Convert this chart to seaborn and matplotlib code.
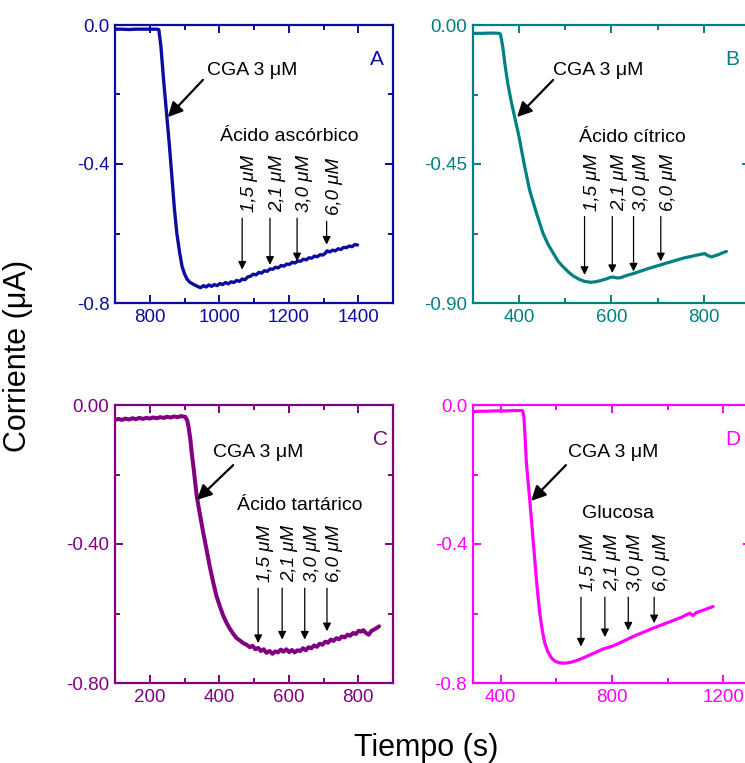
import matplotlib
matplotlib.use("Agg")
import matplotlib.pyplot as plt
from matplotlib.ticker import MultipleLocator, FormatStrFormatter
import pandas as pd
import seaborn as sns

sns.set_theme(style="white")
plt.rcParams["font.family"] = ["Liberation Sans", "DejaVu Sans"]
plt.rcParams["axes.unicode_minus"] = False

# ---------------- data ----------------
# Panel A: ácido ascórbico
time_a = [700, 720, 740, 760, 780, 800, 820, 826, 832, 840, 848, 856, 864, 871, 878,
          886, 893, 900, 907, 915, 927, 937, 946, 955, 962, 970,
          978, 986, 994, 1002, 1010, 1018, 1026, 1034, 1042, 1050, 1058, 1066, 1074,
          1082, 1090, 1098, 1106, 1114, 1122, 1130, 1138, 1146, 1154, 1162, 1170, 1178,
          1186, 1194, 1202, 1210, 1218, 1226, 1234, 1242, 1250, 1258, 1266, 1274, 1282,
          1290, 1298, 1306, 1310, 1318, 1326, 1334, 1342, 1350, 1358, 1366, 1374, 1382,
          1390, 1398]
curr_a = [-0.012, -0.012, -0.013, -0.012, -0.012, -0.012, -0.012, -0.013, -0.060, -0.160,
          -0.250, -0.340, -0.440, -0.530, -0.600, -0.655,
          -0.695, -0.716, -0.731, -0.740, -0.747, -0.752, -0.756, -0.750, -0.754, -0.748,
          -0.752, -0.747, -0.750, -0.744, -0.747, -0.741, -0.745, -0.739, -0.741, -0.735,
          -0.738, -0.731, -0.733, -0.725, -0.723, -0.717, -0.719, -0.712, -0.714, -0.707,
          -0.709, -0.702, -0.703, -0.697, -0.699, -0.692, -0.694, -0.688, -0.689, -0.683,
          -0.685, -0.679, -0.680, -0.674, -0.676, -0.670, -0.671, -0.665, -0.667, -0.661,
          -0.662, -0.656, -0.650, -0.653, -0.648, -0.650, -0.644, -0.646, -0.640, -0.641,
          -0.636, -0.638, -0.632, -0.633]

# Panel B: ácido cítrico
time_b = [300, 320, 340, 358, 360, 365, 370, 376, 383, 391, 400, 412, 423, 438, 452, 463,
          474, 485, 495, 506, 517, 530, 542, 555, 567, 578, 589, 598, 604, 612, 620, 633,
          647, 665, 683, 701, 719, 737, 755, 770, 785, 802, 808, 817, 824, 831, 840, 849]
curr_b = [-0.027, -0.027, -0.026, -0.027, -0.030, -0.070, -0.130, -0.190, -0.245, -0.300,
          -0.360, -0.455, -0.534, -0.609, -0.674, -0.710, -0.738, -0.765, -0.782, -0.798,
          -0.812, -0.823, -0.830, -0.833, -0.831, -0.827, -0.822, -0.817, -0.816, -0.819,
          -0.818, -0.811, -0.805, -0.796, -0.787, -0.779, -0.771, -0.763, -0.755, -0.750,
          -0.745, -0.740, -0.746, -0.751, -0.747, -0.744, -0.738, -0.733]

# Panel C: ácido tartárico
time_c = [100, 110, 120, 130, 140, 150, 160, 170, 180, 190, 200, 210, 220, 230, 240, 250,
          260, 270, 280, 290, 302, 308, 312, 317, 321, 326, 331, 335, 340, 345, 354, 364,
          373, 383, 392, 402, 411, 421, 430, 440, 450, 460, 470, 479, 488, 496, 504, 512,
          520, 528, 536, 545, 553, 561, 569, 577, 585, 593, 601, 609, 617, 625, 633, 641,
          649, 657, 665, 673, 681, 689, 697, 705, 713, 721, 729, 737, 745, 753, 761, 769,
          777, 785, 793, 801, 809, 815, 822, 830, 838, 846, 854, 860]
curr_c = [-0.043, -0.040, -0.043, -0.039, -0.042, -0.038, -0.041, -0.037, -0.040, -0.037,
          -0.039, -0.036, -0.038, -0.035, -0.037, -0.034, -0.036, -0.033, -0.035, -0.032,
          -0.034, -0.045, -0.065, -0.100, -0.140, -0.180, -0.225, -0.260, -0.290, -0.318,
          -0.368, -0.419, -0.466, -0.512, -0.550, -0.580, -0.605, -0.627, -0.643, -0.658,
          -0.671, -0.678, -0.686, -0.690, -0.697, -0.693, -0.703, -0.699, -0.708, -0.703,
          -0.713, -0.708, -0.716, -0.709, -0.712, -0.704, -0.710, -0.703, -0.711, -0.705,
          -0.712, -0.706, -0.708, -0.700, -0.706, -0.697, -0.700, -0.692, -0.696, -0.687,
          -0.690, -0.681, -0.684, -0.675, -0.679, -0.671, -0.674, -0.666, -0.669, -0.661,
          -0.664, -0.656, -0.659, -0.650, -0.652, -0.648, -0.656, -0.661, -0.650, -0.646,
          -0.641, -0.637]

# Panel D: glucosa
time_d = [300, 320, 350, 380, 420, 450, 479, 484, 488, 493, 499, 505, 511, 517, 523, 529,
          535, 541, 550, 559, 570, 583, 597, 613, 630, 649, 672, 697, 733, 769, 805, 841,
          877, 913, 949, 985, 1021, 1050, 1080, 1092, 1104, 1130, 1164]
curr_d = [-0.019, -0.018, -0.018, -0.017, -0.017, -0.016, -0.016, -0.034, -0.090, -0.168,
          -0.220, -0.273, -0.330, -0.388, -0.445, -0.503, -0.553, -0.599, -0.648, -0.685,
          -0.710, -0.728, -0.738, -0.742, -0.743, -0.741, -0.736, -0.728, -0.715, -0.702,
          -0.693, -0.680, -0.666, -0.654, -0.642, -0.631, -0.620, -0.611, -0.599, -0.606,
          -0.597, -0.590, -0.580]

# Additions: time of each addition, start and end of its arrow
conc_labels = ["1,5 \u03bcM", "2,1 \u03bcM", "3,0 \u03bcM", "6,0 \u03bcM"]
add_t_a = [1066, 1146, 1224, 1309]
add_y0_a = [-0.556, -0.556, -0.556, -0.565]
add_y1_a = [-0.704, -0.690, -0.680, -0.632]
add_t_b = [542, 602, 648, 707]
add_y0_b = [-0.620, -0.620, -0.620, -0.620]
add_y1_b = [-0.809, -0.803, -0.798, -0.765]
add_t_c = [512, 581, 646, 710]
add_y0_c = [-0.527, -0.527, -0.527, -0.527]
add_y1_c = [-0.685, -0.675, -0.675, -0.651]
add_t_d = [689, 775, 859, 952]
add_y0_d = [-0.553, -0.553, -0.553, -0.553]
add_y1_d = [-0.695, -0.668, -0.649, -0.628]

analytes = ["\u00c1cido asc\u00f3rbico", "\u00c1cido c\u00edtrico",
            "\u00c1cido tart\u00e1rico", "Glucosa"]
panel_letters = ["A", "B", "C", "D"]
cga_label = "CGA 3 \u03bcM"

# ---------------- figure ----------------
W, H = 745, 763
fig = plt.figure(figsize=(W / 100, H / 100), dpi=100)


def frac(l, t, r, b):
    return [l / W, 1 - b / H, (r - l) / W, (b - t) / H]


panels = [
    dict(rect=frac(115, 25, 393, 303), color="#0c0ca0", t=time_a, y=curr_a, lw=2.4,
         xlim=(700, 1500), xmaj=200, xmin=100, ylim=(-0.8, 0.0), ymaj=0.4, ymin=0.2,
         yfmt="%.1f", adds=(add_t_a, add_y0_a, add_y1_a),
         cga_xy=(964, -0.130), cga_arrow=((953, -0.158), (852, -0.265)),
         ana_xy=(1201, -0.322), let_xy=(1454, -0.10)),
    dict(rect=frac(472.7, 25, 750, 303), color="#008080", t=time_b, y=curr_b, lw=2.3,
         xlim=(300, 900), xmaj=200, xmin=100, ylim=(-0.9, 0.0), ymaj=0.45, ymin=0.225,
         yfmt="%.2f", adds=(add_t_b, add_y0_b, add_y1_b),
         cga_xy=(474, -0.146), cga_arrow=((474, -0.178), (396, -0.298)),
         ana_xy=(645, -0.363), let_xy=(861, -0.113)),
    dict(rect=frac(115, 405, 393, 683), color="#800080", t=time_c, y=curr_c, lw=2.9,
         xlim=(100, 900), xmaj=200, xmin=100, ylim=(-0.8, 0.0), ymaj=0.4, ymin=0.2,
         yfmt="%.2f", adds=(add_t_c, add_y0_c, add_y1_c),
         cga_xy=(382, -0.138), cga_arrow=((440, -0.173), (336, -0.273)),
         ana_xy=(632, -0.288), let_xy=(863, -0.10)),
    dict(rect=frac(472.7, 405, 751, 683), color="#ff00ff", t=time_d, y=curr_d, lw=2.3,
         xlim=(300, 1300), xmaj=400, xmin=200, ylim=(-0.8, 0.0), ymaj=0.4, ymin=0.2,
         yfmt="%.1f", adds=(add_t_d, add_y0_d, add_y1_d),
         cga_xy=(642, -0.138), cga_arrow=((635, -0.173), (510, -0.276)),
         ana_xy=(822, -0.311), let_xy=(1236, -0.10)),
]

for i, p in enumerate(panels):
    ax = fig.add_axes(p["rect"])
    col = p["color"]
    df = pd.DataFrame({"Tiempo": p["t"], "Corriente": p["y"]})
    sns.lineplot(data=df, x="Tiempo", y="Corriente", ax=ax, color=col,
                 linewidth=p["lw"], sort=False, estimator=None)
    ax.set_xlim(*p["xlim"])
    ax.set_ylim(*p["ylim"])
    ax.set_xlabel("")
    ax.set_ylabel("")
    ax.xaxis.set_major_locator(MultipleLocator(p["xmaj"]))
    ax.xaxis.set_minor_locator(MultipleLocator(p["xmin"]))
    ax.yaxis.set_major_locator(MultipleLocator(p["ymaj"]))
    ax.yaxis.set_minor_locator(MultipleLocator(p["ymin"]))
    ax.yaxis.set_major_formatter(FormatStrFormatter(p["yfmt"]))
    ax.xaxis.set_major_formatter(FormatStrFormatter("%d"))
    for s in ax.spines.values():
        s.set_visible(True)
        s.set_color(col)
        s.set_linewidth(1.6)
    ax.tick_params(which="both", direction="in", top=True, right=True,
                   bottom=True, left=True, color=col, labelcolor=col,
                   width=1.4, labelsize=13.5, pad=4)
    ax.tick_params(which="major", length=6)
    ax.tick_params(which="minor", length=3.5)
    ax.grid(False)

    # CGA injection
    ax.text(*p["cga_xy"], cga_label, fontsize=14, color="black",
            ha="left", va="center")
    (x0, y0), (x1, y1) = p["cga_arrow"]
    ax.annotate("", xy=(x1, y1), xytext=(x0, y0),
                arrowprops=dict(arrowstyle="-|>", color="black", lw=1.6,
                                mutation_scale=22, shrinkA=0, shrinkB=0))
    # analyte name and panel letter
    ax.text(*p["ana_xy"], analytes[i], fontsize=14, color="black",
            ha="center", va="center")
    ax.text(*p["let_xy"], panel_letters[i], fontsize=15, color=col,
            ha="center", va="center")

    # successive additions
    ts, y0s, y1s = p["adds"]
    for t, ya, yb, lab in zip(ts, y0s, y1s, conc_labels):
        ax.annotate("", xy=(t, yb), xytext=(t, ya),
                    arrowprops=dict(arrowstyle="-|>", color="black", lw=0.9,
                                    mutation_scale=12, shrinkA=0, shrinkB=0))
        ax.annotate(lab, xy=(t, ya), xytext=(5.4, 4.3), textcoords="offset points",
                    rotation=90, ha="center", va="bottom", fontsize=13.5,
                    style="italic", color="black")

fig.text(18 / W, 1 - 356 / H, "Corriente (\u03bcA)", rotation=90, fontsize=22,
         ha="center", va="center", color="black")
fig.text(426 / W, 1 - 748 / H, "Tiempo (s)", fontsize=22,
         ha="center", va="center", color="black")

fig.savefig("out.png", dpi=100)
